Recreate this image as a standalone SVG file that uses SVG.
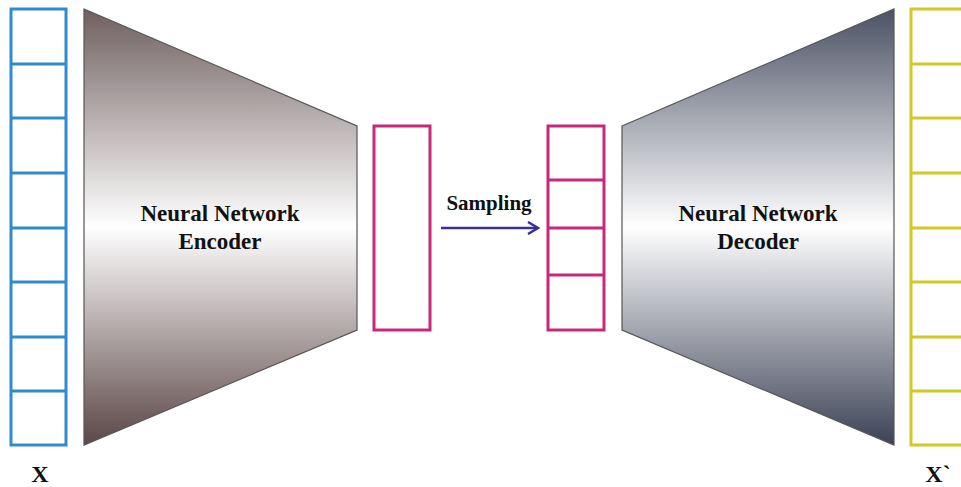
<svg xmlns="http://www.w3.org/2000/svg" width="961" height="487" viewBox="0 0 961 487">
<defs>
<linearGradient id="gEnc" x1="0" y1="9" x2="0" y2="445" gradientUnits="userSpaceOnUse">
<stop offset="0" stop-color="#6f5f60"/>
<stop offset="0.5" stop-color="#ffffff"/>
<stop offset="1" stop-color="#5c4748"/>
</linearGradient>
<linearGradient id="gDec" x1="0" y1="9" x2="0" y2="445" gradientUnits="userSpaceOnUse">
<stop offset="0" stop-color="#4c5265"/>
<stop offset="0.5" stop-color="#ffffff"/>
<stop offset="1" stop-color="#3c4256"/>
</linearGradient>
<marker id="arr" markerWidth="14" markerHeight="14" refX="11" refY="7" orient="auto" markerUnits="userSpaceOnUse">
<path d="M1,1 L11,7 L1,13" fill="none" stroke="#3a3096" stroke-width="2.5"/>
</marker>
<style>
.blue{fill:#fff;stroke:#2f8ccc;stroke-width:3}
.yel{fill:#fff;stroke:#d2c828;stroke-width:3}
.mag{fill:#fff;stroke:#c8287a;stroke-width:3}
.trap{stroke:#555;stroke-width:1.2}
.lbl{font-family:"Liberation Serif","Times New Roman",serif;font-weight:bold;font-size:23px;fill:#111;text-anchor:middle}
.var{font-family:"Liberation Serif","Times New Roman",serif;font-weight:bold;font-size:24px;fill:#111;text-anchor:middle}
</style>
</defs>
<rect width="961" height="487" fill="#fff"/>
<g id="input-x">
<rect class="blue" x="11" y="9" width="55" height="436"/>
<path d="M11,64H66M11,118H66M11,173H66M11,228H66M11,282H66M11,337H66M11,391H66" stroke="#2f8ccc" stroke-width="3"/>
<text class="var" x="40" y="482">X</text>
</g>
<g id="encoder">
<polygon class="trap" points="84,9 357,126 357,330 84,445" fill="url(#gEnc)"/>
<text class="lbl" x="220" y="221">Neural Network</text>
<text class="lbl" x="220" y="249">Encoder</text>
</g>
<g id="latent">
<rect class="mag" x="374" y="126" width="56" height="204"/>
</g>
<g id="sampled">
<rect class="mag" x="548" y="126" width="56" height="204"/>
<path d="M548,180H604M548,228H604M548,275H604" stroke="#c8287a" stroke-width="3"/>
</g>
<g id="decoder">
<polygon class="trap" points="622,126 894,9 894,445 622,330" fill="url(#gDec)"/>
<text class="lbl" x="758" y="221">Neural Network</text>
<text class="lbl" x="758" y="249">Decoder</text>
</g>
<g id="output-x">
<rect class="yel" x="911" y="9" width="60" height="436"/>
<path d="M911,64H961M911,118H961M911,173H961M911,228H961M911,282H961M911,337H961M911,391H961" stroke="#d2c828" stroke-width="3"/>
<text class="var" x="938" y="482">X`</text>
</g>
<g id="connectors">
<line x1="441" y1="228" x2="538" y2="228" stroke="#3a3096" stroke-width="2.5" marker-end="url(#arr)"/>
<text class="lbl" x="489" y="210" style="font-size:21px">Sampling</text>
</g>
</svg>
